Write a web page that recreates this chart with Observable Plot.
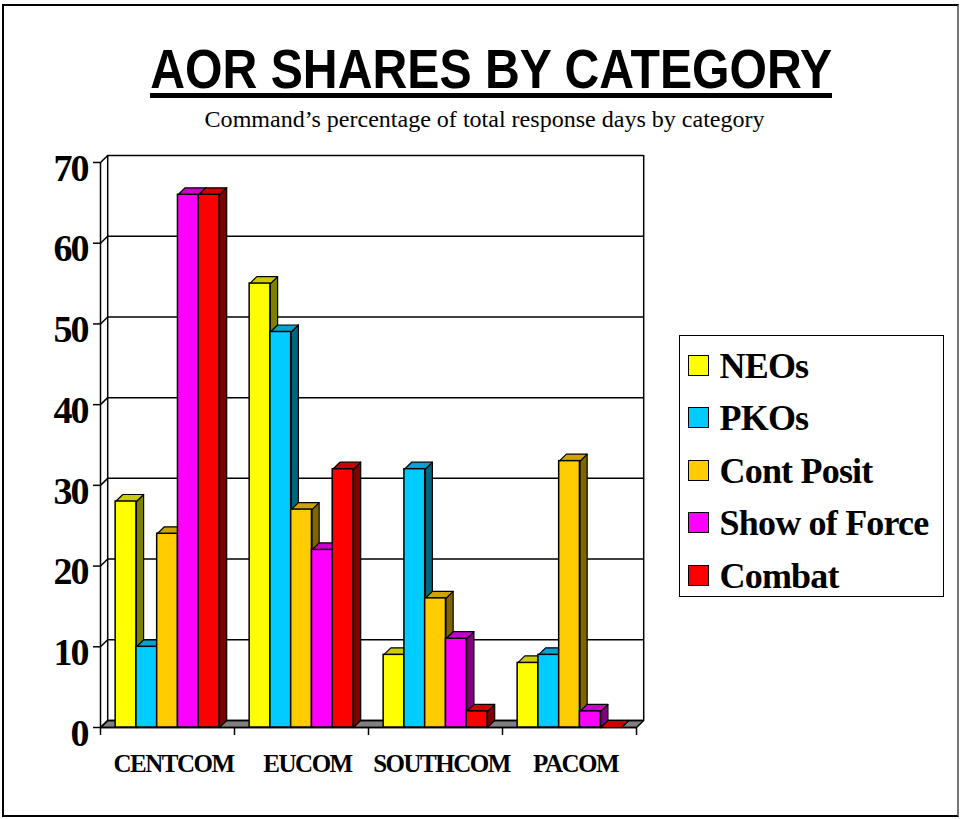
<!DOCTYPE html>
<html><head><meta charset="utf-8">
<script src="https://cdn.jsdelivr.net/npm/d3@7"></script>
<script src="https://cdn.jsdelivr.net/npm/@observablehq/plot@0.6"></script>
<style>
html,body{margin:0;padding:0;background:#fff;}
#wrap{position:relative;width:960px;height:819px;overflow:hidden;background:#fff;}
#frame{position:absolute;left:2px;top:4px;width:953px;height:809px;border:2px solid #000;border-right-color:#777;}
#chart{position:absolute;left:0;top:0;}
#title{position:absolute;left:11px;top:40.6px;width:960px;text-align:center;white-space:nowrap;font:bold 56px/56px "Liberation Sans Narrow","Liberation Sans",Arial,sans-serif;color:#000;}
#title span,#subtitle span{display:inline-block;transform-origin:50% 50%;}
#rule{position:absolute;left:150px;top:93px;width:682px;height:4.5px;background:#000;}
#subtitle{position:absolute;left:5px;top:107px;width:960px;text-align:center;white-space:nowrap;font:24px/24px "Liberation Serif","Times New Roman",serif;color:#000;}
#legend{position:absolute;left:679px;top:335px;width:263px;height:260px;border:1.5px solid #000;background:#fff;}
.sw{position:absolute;left:7.5px;width:19px;height:19px;border:1px solid #000;}
.lt{position:absolute;left:39.5px;white-space:nowrap;font:bold 36px/36px "Liberation Serif","Times New Roman",serif;letter-spacing:-0.8px;color:#000;}
g[aria-label="text"] text{letter-spacing:-1.5px;}
g[aria-label="y-axis tick label"] text{letter-spacing:-2px;}
</style>
</head><body>
<div id="wrap">
  <div id="frame"></div>
  <div id="chart"></div>
  <div id="title"><span>AOR SHARES BY CATEGORY</span></div>
  <div id="rule"></div>
  <div id="subtitle"><span>Command’s percentage of total response days by category</span></div>
  <div id="legend"></div>
</div>
<script>
// ---- data ----
const categories = ["CENTCOM", "EUCOM", "SOUTHCOM", "PACOM"];
const series = ["NEOs", "PKOs", "Cont Posit", "Show of Force", "Combat"];
const neos        = [28, 55, 9, 8];
const pkos        = [10, 49, 32, 9];
const contPosit   = [24, 27, 16, 33];
const showOfForce = [66, 22, 11, 2];
const combat      = [66, 32, 2, 0];
const yTicks = [0, 10, 20, 30, 40, 50, 60, 70];

// ---- styles ----
const frontColors = ["#ffff00", "#00ccff", "#ffcc00", "#ff00ff", "#ff0000"];
const topColors   = ["#cccc00", "#00a3cc", "#cca300", "#cc00cc", "#cc0000"];
const sideColors  = ["#808000", "#006680", "#806600", "#800080", "#800000"];
const floorColor = "#808080";

const values = [neos, pkos, contPosit, showOfForce, combat];
const nG = categories.length;
const DX = 7.2 / 134, DY = 7 / 8.07;   // 3D depth in data units
const PAD = 0.113, BW = 0.155;          // bar layout inside each group

const bars = [];
categories.forEach((c, gi) => series.forEach((s, si) => {
  const x1 = gi + PAD + si * BW;
  bars.push({c, s, si, gi, v: values[si][gi], x1, x2: x1 + BW});
}));

const faces = [];
bars.forEach((b, k) => {
  const side = [[b.x2, 0], [b.x2, b.v], [b.x2 + DX, b.v + DY], [b.x2 + DX, DY], [b.x2, 0]];
  const top = [[b.x1, b.v], [b.x2, b.v], [b.x2 + DX, b.v + DY], [b.x1 + DX, b.v + DY], [b.x1, b.v]];
  side.forEach(([x, y]) => faces.push({id: "s" + k, x, y, fill: sideColors[b.si]}));
  top.forEach(([x, y]) => faces.push({id: "t" + k, x, y, fill: topColors[b.si]}));
});

const floor = [[0, 0], [nG, 0], [nG + DX, DY], [DX, DY], [0, 0]].map(([x, y]) => ({x, y}));

const SERIF = "Liberation Serif, Times New Roman, serif";
const chart = Plot.plot({
  width: 960, height: 819,
  marginLeft: 100, marginRight: 324, marginTop: 162, marginBottom: 92,
  x: {domain: [0, nG]},
  y: {domain: [0, 70]},
  color: {type: "identity"},
  marks: [
    Plot.line(floor, {x: "x", y: "y", fill: floorColor, stroke: "black", strokeWidth: 1.5}),
    Plot.ruleY(yTicks, {y: d => d + DY, x1: DX, x2: nG + DX, stroke: "black", strokeWidth: 1.5}),
    Plot.ruleX([DX, nG + DX], {y1: DY, y2: 70 + DY, stroke: "black", strokeWidth: 1.5}),
    Plot.link(yTicks, {x1: 0, y1: d => d, x2: DX, y2: d => d + DY, stroke: "black", strokeWidth: 1.5}),
    Plot.ruleX([0], {y1: 0, y2: 70, stroke: "black", strokeWidth: 1.5}),
    Plot.ruleY([0], {x1: 0, x2: nG, stroke: "black", strokeWidth: 1.5}),
    Plot.line(faces, {x: "x", y: "y", z: "id", fill: "fill", stroke: "black", strokeWidth: 1.2}),
    Plot.rect(bars, {x1: "x1", x2: "x2", y1: 0, y2: "v", fill: d => frontColors[d.si], stroke: "black", strokeWidth: 1.5}),
    Plot.axisY({ticks: yTicks, tickSize: 7, tickFormat: () => "", label: null, strokeWidth: 1.5}),
    Plot.axisY({ticks: yTicks, tickSize: 0, tickPadding: 13, dy: 6, label: null,
      fontSize: 38, fontWeight: "bold", fontFamily: SERIF, fill: "black"}),
    Plot.axisX({ticks: d3.range(nG + 1), tickSize: 8, tickFormat: () => "", label: null, strokeWidth: 1.5}),
    Plot.text(categories, {x: (d, i) => i + 0.5, y: 0, dy: 36, dx: 6, text: d => d,
      fontSize: 25, fontWeight: "bold", fontFamily: SERIF, fill: "black"})
  ]
});
document.getElementById("chart").appendChild(chart);

// legend
const legend = document.getElementById("legend");
series.forEach((s, i) => {
  const sw = document.createElement("div");
  sw.className = "sw";
  sw.style.top = (18.5 + 52.5 * i) + "px";
  sw.style.background = frontColors[i];
  legend.appendChild(sw);
  const t = document.createElement("div");
  t.className = "lt";
  t.style.top = (11.5 + 52.5 * i) + "px";
  t.textContent = s;
  legend.appendChild(t);
});

// fit title widths
function fit(sel, w) {
  const el = document.querySelector(sel);
  const nat = el.getBoundingClientRect().width;
  el.style.transform = "scaleX(" + (w / nat) + ")";
}
fit("#title span", 682);
fit("#subtitle span", 560);
</script>
</body></html>
